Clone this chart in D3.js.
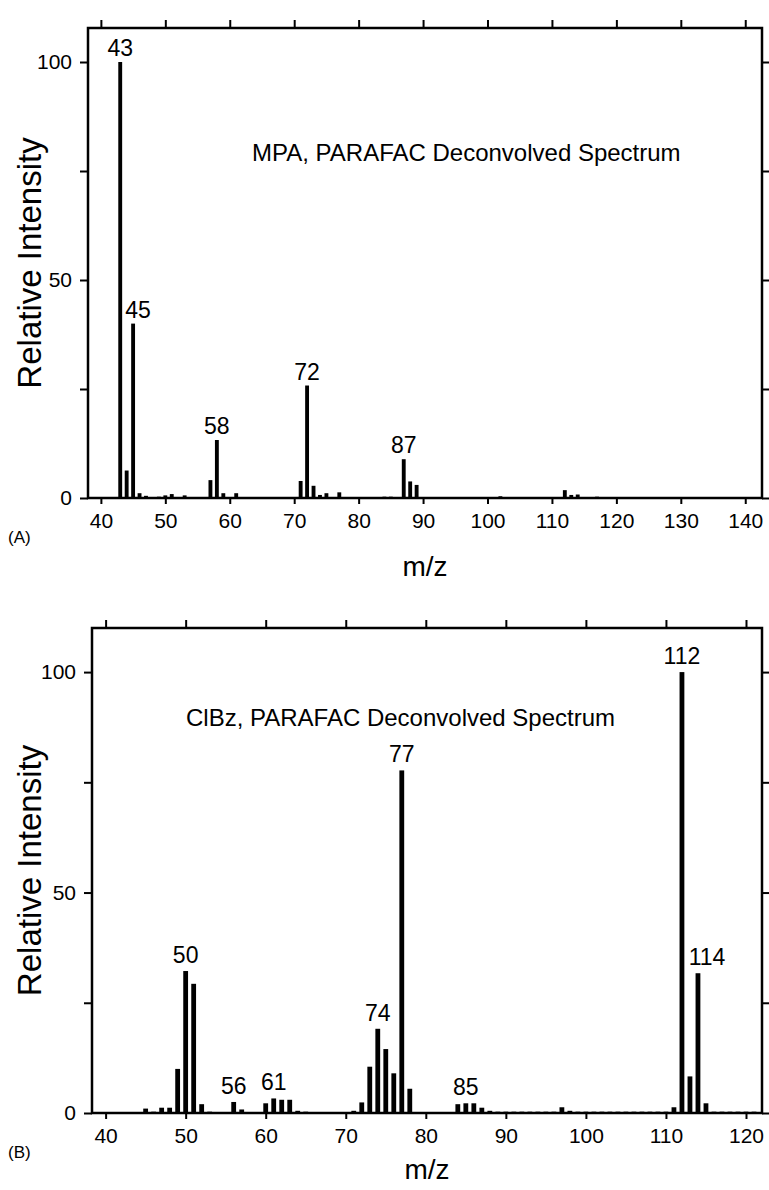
<!DOCTYPE html>
<html>
<head>
<meta charset="utf-8">
<script src="https://cdnjs.cloudflare.com/ajax/libs/d3/7.8.5/d3.min.js"></script>
<style>
  body { margin: 0; background: #fff; }
  text { font-family: "Liberation Sans", Arial, sans-serif; fill: #000; }
</style>
</head>
<body>
<div id="chart"></div>
<script>
// panel A - MPA
var mpaMz = [43,44,45,46,47,48,49,50,51,52,53,54,55,56,57,58,59,60,61,62,63,64,65,66,67,68,69,70,
  71,72,73,74,75,76,77,78,79,80,81,82,83,84,85,86,87,88,89,90,91,92,93,94,95,96,97,98,99,100,
  101,102,103,104,105,106,107,108,109,110,111,112,113,114,115,116,117,118,119,120,
  121,122,123,124,125,126,127,128,129,130,131,132,133,134,135,136,137,138,139,140];
var mpaIntensity = [100,6.3,40,1.1,0.5,0.2,0.3,0.6,0.9,0.2,0.6,0.2,0.2,0.2,4.1,13.3,1.1,0.2,1.1,0.2,0.1,0.2,0.1,0.1,0.1,0.1,0.1,0.2,
  3.9,25.8,2.8,0.7,1.1,0.2,1.3,0.1,0.1,0.1,0.1,0.1,0.1,0.3,0.3,0.1,8.9,3.8,3.0,0.2,0.1,0.1,0.1,0.1,0.1,0.1,0.1,0.1,0.1,0.1,
  0.1,0.4,0.1,0.1,0.1,0.1,0.1,0.1,0.1,0.1,0.1,1.8,0.7,0.8,0.1,0.1,0.3,0.1,0.1,0.1,
  0.1,0.1,0.1,0.1,0.1,0.1,0.1,0.1,0.1,0.1,0.1,0.1,0.1,0.1,0.1,0.1,0.1,0.1,0.1,0.1];
var mpaPeaks = [43,45,58,72,87];
var mpaTitle = "MPA, PARAFAC Deconvolved Spectrum";
var mpaXTicks = [40,50,60,70,80,90,100,110,120,130,140];

// panel B - ClBz
var clbzMz = [45,46,47,48,49,50,51,52,53,54,55,56,57,58,59,60,61,62,63,64,65,66,67,68,69,70,
  71,72,73,74,75,76,77,78,79,80,81,82,83,84,85,86,87,88,89,90,91,92,93,94,95,96,97,98,99,100,
  101,102,103,104,105,106,107,108,109,110,111,112,113,114,115,116,117,118,119,120,121];
var clbzIntensity = [1,0.3,1.2,1.2,10,32.2,29.3,2,0.3,0.2,0.2,2.5,0.8,0.2,0.2,2.2,3.3,3,3,0.5,0.3,0.2,0.2,0.2,0.2,0.2,
  0.5,2.4,10.5,19.1,14.5,9,77.7,5.5,0.2,0.2,0.2,0.2,0.2,2,2.2,2.2,1.2,0.5,0.3,0.3,0.3,0.3,0.3,0.3,0.3,0.3,1.3,0.5,0.3,0.3,
  0.3,0.3,0.3,0.3,0.3,0.3,0.3,0.3,0.3,0.3,1.3,100,8.3,31.7,2.2,0.3,0.3,0.3,0.3,0.3,0.3];
var clbzPeaks = [50,56,61,74,77,85,112,114];
var clbzTitle = "ClBz, PARAFAC Deconvolved Spectrum";
var clbzXTicks = [40,50,60,70,80,90,100,110,120];

var yTicks = [0,25,50,75,100];
var yTickLabels = ["0","","50","","100"];

var W = 769, H = 1190;
var svg = d3.select("#chart").append("svg")
  .attr("width", W)
  .attr("height", H);

function drawSpectrum(opt) {
  var x = d3.scaleLinear().domain(opt.xDomain).range([opt.left, opt.right]);
  var y = d3.scaleLinear().domain(opt.yDomain).range([opt.bottom, opt.top]);
  var g = svg.append("g");
  var barW = x(0.6) - x(0);

  g.selectAll("rect.bar")
    .data(opt.mz)
    .enter()
    .append("rect")
    .attr("class", "bar")
    .attr("x", function(d) { return x(d) - barW / 2; })
    .attr("y", function(d, i) { return y(opt.values[i]); })
    .attr("width", barW)
    .attr("height", function(d, i) { return y(0) - y(opt.values[i]); })
    .attr("fill", "#000");

  // peak labels
  g.selectAll("text.peak")
    .data(opt.peaks)
    .enter()
    .append("text")
    .attr("class", "peak")
    .attr("text-anchor", "middle")
    .attr("x", function(d) { return x(d) + (opt.labelShift[d] || 0); })
    .attr("y", function(d) { return y(opt.values[opt.mz.indexOf(d)]) - opt.labelGap; })
    .style("font-size", "23px")
    .text(function(d) { return d; });

  var axL = g.append("g")
    .attr("transform", "translate(" + opt.left + ",0)")
    .call(d3.axisLeft(y).tickValues(yTicks).tickSize(8).tickPadding(8)
      .tickFormat(function(d, i) { return yTickLabels[i]; }));
  var axR = g.append("g")
    .attr("transform", "translate(" + opt.right + ",0)")
    .call(d3.axisRight(y).tickValues(yTicks).tickSize(7).tickFormat(""));
  var axB = g.append("g")
    .attr("transform", "translate(0," + opt.bottom + ")")
    .call(d3.axisBottom(x).tickValues(opt.xTicks).tickSize(6).tickPadding(9).tickFormat(d3.format("d")));
  var axT = g.append("g")
    .attr("transform", "translate(0," + opt.top + ")")
    .call(d3.axisTop(x).tickValues(opt.xTicks).tickSize(8).tickFormat(""));

  [axL, axR, axB, axT].forEach(function(a) {
    a.select(".domain").remove();
    a.selectAll(".tick line").attr("stroke", "#000").attr("stroke-width", 2);
    a.selectAll(".tick text")
      .attr("fill", "#000")
      .style("font-size", "21px")
      .style("font-family", "'Liberation Sans', Arial, sans-serif");
  });

  g.append("rect")
    .attr("x", opt.left)
    .attr("y", opt.top)
    .attr("width", opt.right - opt.left)
    .attr("height", opt.bottom - opt.top)
    .attr("fill", "none")
    .attr("stroke", "#000")
    .attr("stroke-width", 2.5);

  g.append("text")
    .attr("x", opt.titleX)
    .attr("y", opt.titleY)
    .attr("dy", "0.35em")
    .style("font-size", "24px")
    .text(opt.title);

  g.append("text")
    .attr("transform", "translate(" + 29 + "," + ((opt.top + opt.bottom) / 2) + ") rotate(-90)")
    .attr("text-anchor", "middle")
    .attr("dy", "0.35em")
    .style("font-size", "33px")
    .text("Relative Intensity");

  g.append("text")
    .attr("x", (opt.left + opt.right) / 2)
    .attr("y", opt.bottom + opt.mzGap)
    .attr("dy", "0.35em")
    .attr("text-anchor", "middle")
    .style("font-size", "28px")
    .text("m/z");

  g.append("text")
    .attr("x", 8)
    .attr("y", opt.bottom + 39)
    .attr("dy", "0.35em")
    .style("font-size", "17px")
    .text(opt.panel);
}

drawSpectrum({
  mz: mpaMz, values: mpaIntensity, peaks: mpaPeaks, title: mpaTitle, xTicks: mpaXTicks,
  xDomain: [38, 142.6], yDomain: [0, 107.8],
  left: 88, right: 762, top: 28, bottom: 498, mzGap: 68,
  titleX: 252, titleY: 153, labelGap: 6, labelShift: {45: 5}, panel: "(A)"
});

drawSpectrum({
  mz: clbzMz, values: clbzIntensity, peaks: clbzPeaks, title: clbzTitle, xTicks: clbzXTicks,
  xDomain: [38.3, 122], yDomain: [0, 110],
  left: 92, right: 762, top: 628, bottom: 1113, mzGap: 56,
  titleX: 186, titleY: 718, labelGap: 8, labelShift: {114: 9}, panel: "(B)"
});
</script>
</body>
</html>
